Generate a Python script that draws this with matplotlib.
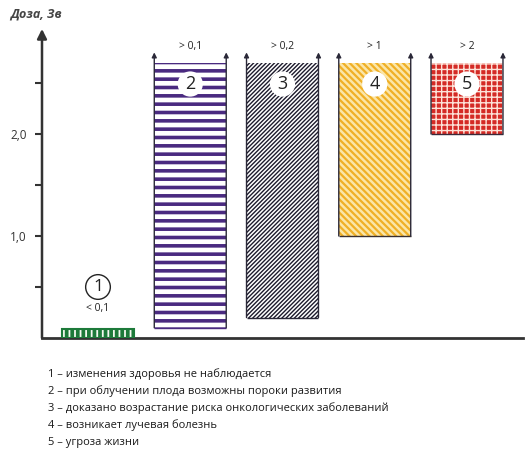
import numpy as np
import matplotlib
matplotlib.use("Agg")
import matplotlib.pyplot as plt

# data
categories = ["1", "2", "3", "4", "5"]
dose_low = [0.0, 0.1, 0.2, 1.0, 2.0]
dose_high = [0.09, 2.7, 2.7, 2.7, 2.7]
dose_labels = ["< 0,1", "> 0,1", "> 0,2", "> 1", "> 2"]
yticks = [0.5, 1.0, 1.5, 2.0, 2.5]
ytick_labels = ["", "1,0", "", "2,0", ""]
effects = [
    "изменения здоровья не наблюдается",
    "при облучении плода возможны пороки развития",
    "доказано возрастание риска онкологических заболеваний",
    "возникает лучевая болезнь",
    "угроза жизни",
]

face = ["#1d7a3a", "white", "white", "#fbe6a8", "#d42a25"]
hatch_col = ["#f4f8f0", "#4a2a80", "#1c1a2c", "#f0b026", "#fde2d8"]
hatches = ["|||", "--", "////////", "\\\\\\\\\\", "+++"]
hatch_lw = [1.3, 2.6, 1.0, 1.6, 1.0]
edge = ["#1d7a3a", "#4a2a80", "#2a2838", "#3a3030", "#3a2a3a"]

plt.rcParams["font.family"] = ["Open Sans", "DejaVu Sans"]
fig = plt.figure(figsize=(5.25, 4.5), dpi=100)
ax = fig.add_axes([42 / 525, 112 / 450, 481 / 525, 306 / 450])

x = np.arange(1, len(categories) + 1)
w = 0.78
ax.set_xlim(0.393, 5.607)
ax.set_ylim(0, 3.0)

for i in range(len(categories)):
    h = dose_high[i] - dose_low[i]
    with plt.rc_context({"hatch.linewidth": hatch_lw[i]}):
        b = ax.bar(x[i], h, w, bottom=dose_low[i], color=face[i],
                   edgecolor=hatch_col[i], hatch=hatches[i], linewidth=0, zorder=2)
    for p in b:
        if hasattr(p, "set_hatch_linewidth"):
            p.set_hatch_linewidth(hatch_lw[i])
    left, right = x[i] - w / 2, x[i] + w / 2
    if i == 0:
        ax.bar(x[i], h, w, bottom=dose_low[i], fill=False,
               edgecolor=edge[i], linewidth=1.5, zorder=3)
        ax.text(x[i], dose_high[i] + 0.2, dose_labels[i], ha="center", va="center",
                fontsize=7.5, color="#222222")
        ax.text(x[i], 0.5, categories[i], ha="center", va="center", fontsize=12.5,
                color="#222222", zorder=4,
                bbox=dict(boxstyle="circle,pad=0.25", fc="white", ec="#222222", lw=1.0))
        continue
    ax.hlines(dose_low[i], left, right, color=edge[i], lw=1.0, zorder=3)
    for xe in (left, right):
        ax.annotate("", xy=(xe, 2.8), xytext=(xe, dose_low[i]),
                    arrowprops=dict(arrowstyle="-|>", color="#2a2838", lw=1.0,
                                    mutation_scale=7, shrinkA=0, shrinkB=0),
                    zorder=3)
    ax.text(x[i], 2.86, dose_labels[i], ha="center", va="center",
            fontsize=7.5, color="#222222")
    ax.text(x[i], 2.49, categories[i], ha="center", va="center", fontsize=13,
            color="#222222", zorder=4,
            bbox=dict(boxstyle="circle,pad=0.2", fc="white", ec="none"))

# axes: arrow on y, plain line on x
for s in ["top", "right", "left"]:
    ax.spines[s].set_visible(False)
ax.spines["bottom"].set_color("#333333")
ax.spines["bottom"].set_linewidth(2.0)
ax.annotate("", xy=(0, 1.01), xytext=(0, 0), xycoords="axes fraction",
            arrowprops=dict(arrowstyle="-|>", color="#333333", lw=1.8,
                            mutation_scale=14, shrinkA=0, shrinkB=0))
ax.set_xticks([])
ax.set_yticks(yticks)
ax.set_yticklabels(ytick_labels, fontsize=8.5, color="#333333")
ax.tick_params(axis="y", length=5, width=1.5, color="#333333", pad=6)

fig.text(10 / 525, 1 - 14 / 450, "Доза, Зв", fontsize=9, fontstyle="italic",
         fontweight="bold", color="#444444", va="center")

for k, t in enumerate(effects):
    fig.text(48 / 525, 1 - (374 + 17.2 * k) / 450, f"{categories[k]} – {t}",
             fontsize=8, color="#1a1a1a", va="center")

fig.savefig("out.png", dpi=100)
